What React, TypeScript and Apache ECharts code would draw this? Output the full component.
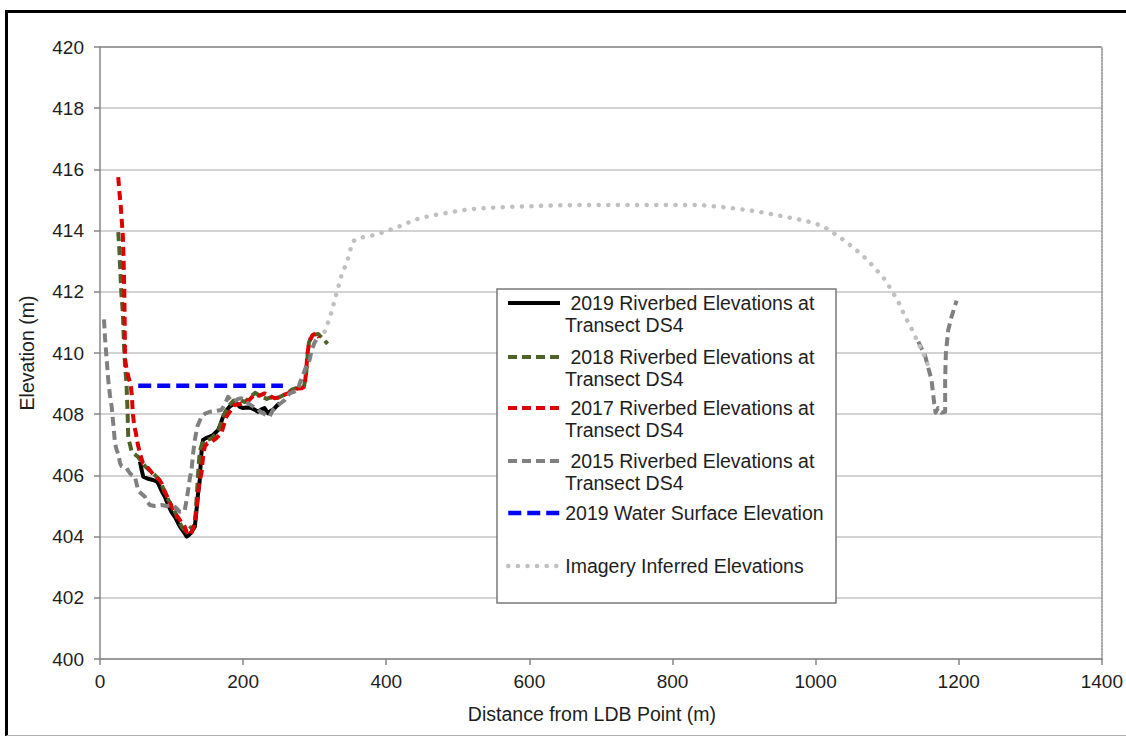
import React, { useEffect, useRef } from 'react';
import * as echarts from 'echarts';

const FONT = '"Liberation Sans", Arial, Helvetica, sans-serif';
const TEXT = '#1e1e1e';

const xTickValues = { min: 0, max: 1400, interval: 200 };
const yTickValues = { min: 400, max: 420, interval: 2 };

const NAME_2019 = '2019 Riverbed Elevations at Transect DS4';
const NAME_2018 = '2018 Riverbed Elevations at Transect DS4';
const NAME_2017 = '2017 Riverbed Elevations at Transect DS4';
const NAME_2015 = '2015 Riverbed Elevations at Transect DS4';
const NAME_WATER = '2019 Water Surface Elevation';
const NAME_IMAGERY = 'Imagery Inferred Elevations';

const riverbed2019: [number, number][] = [
  [55.8, 406.45], [58, 406.2], [60.4, 405.96], [66, 405.9], [74, 405.85], [79, 405.8], [81.3, 405.74],
  [86, 405.5], [90.6, 405.3], [95, 405.05], [100, 404.8], [104.6, 404.65], [110, 404.4], [114, 404.25],
  [118.5, 404.1], [121, 404.0], [124, 404.05], [128, 404.15], [132.5, 404.32], [135, 404.9], [137, 405.4],
  [139.4, 405.85], [141, 406.5], [142.5, 406.95], [144, 407.16], [148, 407.22], [153.4, 407.27],
  [158, 407.32], [165, 407.48], [168, 407.65], [172, 407.92], [176, 408.1], [181.3, 408.25], [186, 408.32],
  [190.6, 408.36], [195, 408.25], [200, 408.2], [205, 408.22], [211.5, 408.2], [216, 408.15],
  [220.7, 408.08], [225, 408.15], [230, 408.2], [234.7, 408.03], [238, 408.1], [241.7, 408.14],
  [246, 408.25], [251, 408.36],
];

const riverbed2018: [number, number][] = [
  [25.5, 413.95], [27, 413.4], [28.5, 412.6], [30, 411.9], [32, 411.3], [33.5, 410.3], [35, 409.6],
  [37, 409.0], [38.5, 408.1], [39.5, 407.2], [42, 407.0], [44, 406.8], [48, 406.7], [53.4, 406.6],
  [58, 406.45], [63, 406.3], [70, 406.15], [77, 406.0], [83, 405.85], [88, 405.6], [93, 405.3],
  [99, 405.05], [105, 404.8], [110, 404.5], [115, 404.3], [119, 404.2], [123, 404.2], [127, 404.3],
  [130, 404.25], [133, 404.55], [135.5, 405.4], [137.5, 406.2], [139.5, 406.8], [143, 407.05],
  [148, 407.15], [155, 407.2], [162, 407.35], [167, 407.55], [171, 407.85], [176, 408.1], [181, 408.3],
  [187, 408.45], [192, 408.4], [197, 408.45], [202, 408.4], [207, 408.5], [212, 408.6], [217, 408.7],
  [222, 408.62], [228, 408.55], [233, 408.5], [238, 408.55], [244, 408.5], [250, 408.55], [256, 408.62],
  [262, 408.68], [268, 408.8], [274, 408.85], [280, 408.85], [285, 408.9], [288, 409.3], [290, 409.9],
  [292, 410.35], [296, 410.55], [300, 410.6], [305, 410.62], [310, 410.5], [314, 410.4], [318, 410.3],
];

const riverbed2017: [number, number][] = [
  [25.5, 415.75], [27, 415.3], [29, 414.8], [30.5, 414.3], [32, 413.8], [33, 413.0], [34, 412.0],
  [34.5, 411.0], [35, 409.8], [37, 409.5], [40, 409.2], [43, 408.95], [44.5, 408.6], [46, 408.0],
  [48, 407.6], [50, 407.4], [53, 407.0], [56, 406.7], [60, 406.4], [65, 406.3], [72, 406.1], [78, 405.95],
  [83, 405.85], [86, 405.74], [90, 405.5], [95, 405.25], [100, 404.98], [105, 404.75], [110, 404.6],
  [114, 404.45], [118.5, 404.32], [121, 404.15], [123, 404.05], [126, 404.05], [129, 404.2],
  [132.5, 404.44], [135, 404.9], [137, 405.4], [139, 405.8], [141.8, 406.07], [144, 406.6],
  [146.4, 406.94], [150, 407.05], [155.7, 407.1], [162, 407.2], [169.6, 407.38], [173, 407.65],
  [176.7, 407.92], [182, 408.1], [188, 408.3], [195, 408.33], [202, 408.36], [208, 408.45], [212, 408.55],
  [216, 408.63], [222, 408.6], [230, 408.68], [237, 408.6], [244, 408.52], [250, 408.55], [256, 408.62],
  [262.6, 408.68], [270, 408.78], [276.5, 408.84], [282, 408.85], [286, 408.9], [288, 409.4], [290, 410.0],
  [292.8, 410.4], [297, 410.58], [302, 410.65], [306, 410.5],
];

const riverbed2015Left: [number, number][] = [
  [5.6, 411.1], [7, 410.5], [9.3, 409.8], [11.6, 409.1], [14, 408.6], [16.3, 408.25], [18.5, 407.7],
  [21, 407.05], [23, 406.85], [25.5, 406.7], [28, 406.4], [30.2, 406.3], [34, 406.25], [37.2, 406.23],
  [41.8, 406.07], [45, 406.0], [48.8, 405.96], [53.4, 405.5], [58, 405.4], [62.8, 405.3], [66, 405.15],
  [69.7, 405.03], [76, 405.0], [86, 405.03], [93, 405.0], [100, 405.03], [106, 404.95], [111.6, 404.81],
  [116, 404.8], [118.5, 404.87], [121, 405.2], [123, 405.5], [125.5, 405.9], [127.9, 406.18],
  [130, 406.7], [132.5, 407.16], [136, 407.6], [141.8, 407.92], [147, 408.02], [153.4, 408.08],
  [160, 408.1], [169.6, 408.14], [174, 408.3], [179, 408.57], [183, 408.45], [188, 408.41], [193, 408.5],
  [197.6, 408.52], [202, 408.45], [206.8, 408.36], [214, 408.25], [220.7, 408.14], [227.7, 408.03],
  [232.5, 407.97], [237, 407.92], [241.7, 408.14], [246.4, 408.25], [252, 408.35], [258, 408.46],
  [265, 408.68], [270, 408.72], [276.5, 408.8], [279, 409.0], [284, 409.3], [288, 409.55],
  [292.8, 409.77], [296, 410.1], [300, 410.35], [303, 410.45],
];

const riverbed2015Right: [number, number][] = [
  [1143.5, 410.37], [1148, 410.15], [1152.8, 409.93], [1157, 409.55], [1162, 409.12], [1164, 408.7],
  [1165.7, 408.36], [1167.6, 408.05], [1171, 408.2], [1176, 408.05], [1181, 408.08], [1181, 409.12],
  [1182, 409.99], [1185.3, 410.75], [1190, 411.19], [1197, 411.71],
];

const waterSurface2019: [number, number][] = [[53.4, 408.93], [255.6, 408.93]];

const imageryInferred: [number, number][] = [
  [313.8, 410.7], [318, 410.95], [323, 411.3], [330, 411.9], [337, 412.5], [346, 413.04], [353, 413.64],
  [358, 413.72], [365, 413.77], [378, 413.83], [390, 413.9], [402, 414.0], [414, 414.1], [427, 414.22],
  [439, 414.35], [452, 414.43], [465, 414.5], [478, 414.55], [490, 414.6], [503, 414.65], [516, 414.7],
  [537, 414.73], [558, 414.76], [580, 414.78], [604, 414.8], [650, 414.83], [697, 414.84], [770, 414.84],
  [837, 414.84], [870, 414.77], [906, 414.67], [930, 414.58], [957.6, 414.45], [980, 414.35],
  [999, 414.24], [1012, 414.12], [1022.6, 413.96], [1042, 413.65], [1060, 413.3], [1072, 413.05],
  [1083, 412.77], [1095, 412.45], [1106, 412.06], [1116, 411.65], [1125, 411.19], [1135, 410.75],
  [1143.5, 410.32], [1150, 410.0], [1157, 409.6],
];

const legendNames = [NAME_2019, NAME_2018, NAME_2017, NAME_2015, NAME_WATER, NAME_IMAGERY];
const legendRowY = [303, 357, 408, 461, 513, 566];

function lineSeries(name: string, data: [number, number][], color: string, width: number, type: any, cap: any = 'butt', z = 2) {
  return {
    type: 'line',
    name,
    data,
    symbol: 'none',
    showSymbol: false,
    z,
    silent: true,
    lineStyle: { color, width, type, cap, join: 'round' },
    itemStyle: { color },
  };
}

export default function App() {
  const ref = useRef<HTMLDivElement>(null);
  useEffect(() => {
    if (!ref.current) return;
    const chart = echarts.init(ref.current, null, { renderer: 'svg' });
    const legends = legendNames.map((n, i) => {
      const twoLine = n.indexOf(' Transect') >= 0;
      return {
        data: [n],
        orient: 'vertical',
        left: 506,
        top: legendRowY[i] - (twoLine ? 33 : 11),
        padding: 0,
        itemWidth: 52,
        itemHeight: 14,
        itemGap: 0,
        selectedMode: false,
        formatter: (name: string) =>
          name.indexOf(' Transect') >= 0 ? '\n ' + name.replace(' Transect', '\nTransect') : name,
        lineStyle: { width: 'inherit' },
        itemStyle: { color: 'rgba(0,0,0,0)', borderWidth: 0, opacity: 0 },
        textStyle: {
          fontFamily: FONT,
          fontSize: 19.5,
          lineHeight: 22,
          color: TEXT,
        },
      };
    });
    const option: any = {
      animation: false,
      backgroundColor: '#ffffff',
      textStyle: { fontFamily: FONT },
      grid: { left: 100, right: 22, top: 47, bottom: 77, containLabel: false },
      legend: legends,
      xAxis: [
        {
          type: 'value',
          min: xTickValues.min,
          max: xTickValues.max,
          interval: xTickValues.interval,
          name: 'Distance from LDB Point (m)',
          nameLocation: 'middle',
          nameGap: 45,
          nameTextStyle: { fontFamily: FONT, fontSize: 19.5, color: TEXT, padding: [0, 18, 0, 0] },
          axisLine: { show: true, lineStyle: { color: '#868686', width: 1.5 } },
          axisTick: { show: true, length: 6, lineStyle: { color: '#868686', width: 1.5 } },
          axisLabel: { fontFamily: FONT, fontSize: 19, color: TEXT, margin: 13, formatter: (v: number) => String(v) },
          splitLine: { show: false },
        },
        {
          type: 'value',
          position: 'top',
          min: xTickValues.min,
          max: xTickValues.max,
          interval: xTickValues.interval,
          axisLine: { show: true, onZero: false, lineStyle: { color: '#8c8c8c', width: 1.5, type: [2, 1] } },
          axisTick: { show: false },
          axisLabel: { show: false },
          splitLine: { show: false },
        },
      ],
      yAxis: [
        {
          type: 'value',
          min: yTickValues.min,
          max: yTickValues.max,
          interval: yTickValues.interval,
          name: 'Elevation (m)',
          nameLocation: 'middle',
          nameGap: 63,
          nameTextStyle: { fontFamily: FONT, fontSize: 19.5, color: TEXT },
          axisLine: { show: true, onZero: false, lineStyle: { color: '#868686', width: 1.5 } },
          axisTick: { show: true, length: 6, lineStyle: { color: '#868686', width: 1.5 } },
          axisLabel: { fontFamily: FONT, fontSize: 19, color: TEXT, margin: 16, formatter: (v: number) => String(v) },
          splitLine: { show: true, lineStyle: { color: '#c4c4c4', width: 1.5 } },
        },
        {
          type: 'value',
          position: 'right',
          min: yTickValues.min,
          max: yTickValues.max,
          interval: yTickValues.interval,
          axisLine: { show: true, onZero: false, lineStyle: { color: '#8c8c8c', width: 1.5, type: [2, 1] } },
          axisTick: { show: false },
          axisLabel: { show: false },
          splitLine: { show: false },
        },
      ],
      graphic: {
        elements: [
          {
            type: 'rect',
            z: 3,
            shape: { x: 497, y: 289, width: 339, height: 314 },
            style: { fill: '#ffffff', stroke: '#7a7a7a', lineWidth: 1.5 },
            silent: true,
          },
          {
            type: 'line',
            z: 10,
            shape: { x1: 6.5, y1: 11.5, x2: 1130, y2: 11.5 },
            style: { stroke: '#000000', lineWidth: 3 },
            silent: true,
          },
          {
            type: 'line',
            z: 10,
            shape: { x1: 6.5, y1: 10, x2: 6.5, y2: 740 },
            style: { stroke: '#000000', lineWidth: 3 },
            silent: true,
          },
          {
            type: 'line',
            z: 10,
            shape: { x1: 6.5, y1: 735.5, x2: 1130, y2: 735.5 },
            style: { stroke: '#b0b0b0', lineWidth: 1 },
            silent: true,
          },
        ],
      },
      series: [
        lineSeries(NAME_2019, riverbed2019, '#000000', 4, 'solid', 'butt', 2),
        lineSeries(NAME_2018, riverbed2018, '#4f6228', 4, [9, 5], 'butt', 3),
        lineSeries(NAME_2017, riverbed2017, '#dd0000', 4, [9, 5], 'butt', 4),
        lineSeries(NAME_2015, riverbed2015Left, '#808080', 4, [9, 5], 'butt', 5),
        lineSeries(NAME_2015, riverbed2015Right, '#808080', 4, [9, 5], 'butt', 5),
        lineSeries(NAME_WATER, waterSurface2019, '#0000ff', 4.5, [13, 6], 'butt', 6),
        lineSeries(NAME_IMAGERY, imageryInferred, '#c0c0c0', 4.5, [0.1, 9.5], 'round', 6),
      ],
    };
    chart.setOption(option);
    return () => chart.dispose();
  }, []);
  return (
    <div
      ref={ref}
      style={{ position: 'absolute', left: 0, top: 0, width: 1126, height: 736, background: '#fff' }}
    />
  );
}
